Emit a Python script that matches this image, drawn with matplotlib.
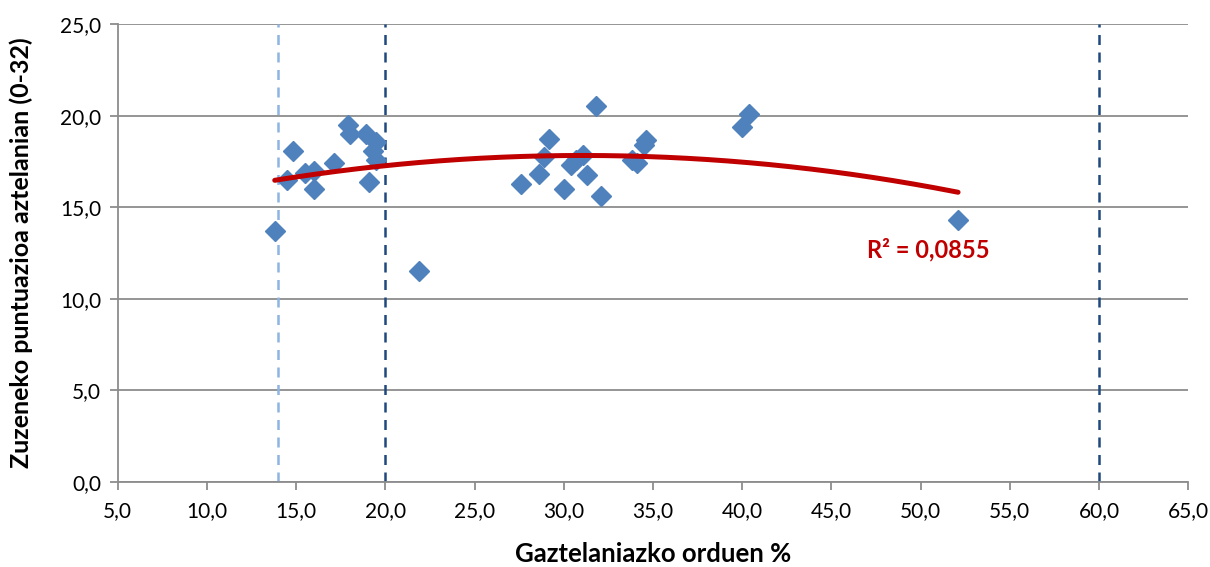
import numpy as np
import matplotlib.pyplot as plt

# Gaztelaniazko orduen % vs zuzeneko puntuazioa
x_vals = [13.8, 14.5, 14.8, 15.5, 16.0, 16.0, 17.1, 17.9, 18.0, 18.9, 19.1, 19.3, 19.5, 19.5,
          21.9, 27.6, 28.6, 28.9, 29.2, 30.0, 30.4, 30.7, 31.1, 31.3, 31.8, 32.1,
          33.8, 34.1, 34.5, 34.6, 40.0, 40.4, 52.1]
y_vals = [13.7, 16.5, 18.1, 16.9, 17.0, 16.0, 17.4, 19.5, 19.0, 19.0, 16.4, 18.1, 18.6, 17.6,
          11.55, 16.3, 16.85, 17.75, 18.75, 16.0, 17.3, 17.6, 17.85, 16.75, 20.55, 15.6,
          17.6, 17.4, 18.4, 18.7, 19.4, 20.1, 14.3]
ref_lines_dark = [20.0, 60.0]
ref_line_light = 14.0
r2_label = 'R² = 0,0855'

plt.rcParams['font.family'] = ['Lato', 'DejaVu Sans']

fig = plt.figure(figsize=(12.1, 5.67), dpi=100)
ax = fig.add_axes([0.0973, 0.150, 0.8847, 0.807])

# horizontal grid
ax.set_axisbelow(True)
ax.yaxis.grid(True, color='#8c8c8c', linewidth=1.3)

# reference lines
ax.axvline(ref_line_light, color='#8db4e2', linestyle=(0, (4, 3)), linewidth=1.8, zorder=1)
for v in ref_lines_dark:
    ax.axvline(v, color='#1f497d', linestyle=(0, (4, 3)), linewidth=1.8, zorder=1)

ax.plot(x_vals, y_vals, linestyle='none', marker='D', markersize=10,
        color='#4f81bd', markeredgecolor='#4f81bd', zorder=3)

# polynomial trend line (order 2)
coef = np.polyfit(x_vals, y_vals, 2)
xs = np.linspace(min(x_vals), max(x_vals), 200)
ax.plot(xs, np.polyval(coef, xs), color='#c00000', linewidth=3.6,
        solid_capstyle='round', zorder=4)
ax.text(867, 317, r2_label, transform=None, color='#c00000', fontsize=17,
        fontweight='bold', va='center')

ax.set_xlim(5, 65)
ax.set_ylim(0, 25)
ax.set_xticks(np.arange(5, 66, 5))
ax.set_yticks(np.arange(0, 26, 5))
ax.set_xticklabels([f'{v:.1f}'.replace('.', ',') for v in np.arange(5, 66, 5)])
ax.set_yticklabels([f'{v:.1f}'.replace('.', ',') for v in np.arange(0, 26, 5)])
ax.tick_params(axis='both', colors='#8c8c8c', labelcolor='black', labelsize=15,
               length=6, width=1.3, direction='out')
ax.tick_params(axis='x', pad=8)
ax.tick_params(axis='y', pad=6)

for s in ['top', 'right']:
    ax.spines[s].set_visible(False)
for s in ['left', 'bottom']:
    ax.spines[s].set_color('#8c8c8c')
    ax.spines[s].set_linewidth(1.3)

ax.set_xlabel('Gaztelaniazko orduen %', fontsize=18.5, fontweight='bold')
ax.set_ylabel('Zuzeneko puntuazioa aztelanian (0-32)', fontsize=18, fontweight='bold')
ax.yaxis.set_label_coords(-0.079, 0.5)
ax.xaxis.set_label_coords(0.5, -0.132)

fig.savefig('out.png', dpi=100)
